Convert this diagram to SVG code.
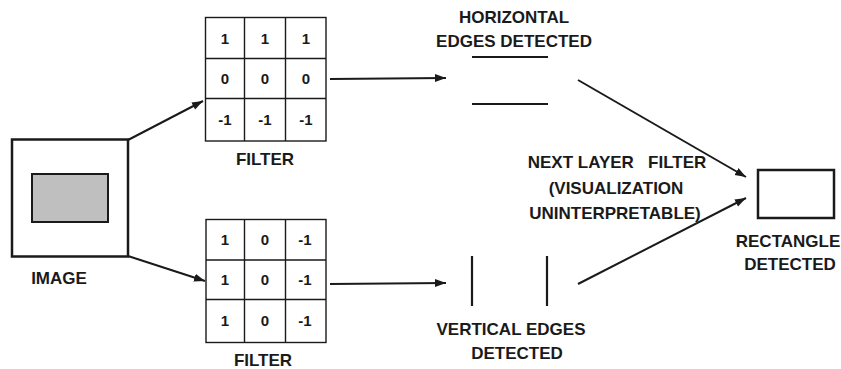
<svg xmlns="http://www.w3.org/2000/svg" width="841" height="369" viewBox="0 0 841 369">
<style>
text{font-family:"Liberation Sans",Arial,sans-serif;font-weight:bold;fill:#1a1a1a;text-anchor:middle}
.lbl{font-size:17px}
.num{font-size:15px}
.grid{fill:#fff;stroke:#1a1a1a;stroke-width:1.4}
.conn{stroke:#1a1a1a;stroke-width:2;fill:none}
.edge{stroke:#1a1a1a;stroke-width:2.2}
</style>
<defs>
<marker id="ah" markerUnits="userSpaceOnUse" markerWidth="12" markerHeight="10" refX="11" refY="4" orient="auto">
<path d="M0,0 L11,4 L0,8 Z" fill="#1a1a1a"/>
</marker>
</defs>
<rect width="841" height="369" fill="#fff"/>
<g id="image">
<rect x="12" y="139.5" width="116" height="117" fill="#fff" stroke="#1a1a1a" stroke-width="2.5"/>
<rect x="32" y="174" width="76" height="48" fill="#bfbfbf" stroke="#1a1a1a" stroke-width="2"/>
<text class="lbl" x="59" y="284">IMAGE</text>
</g>
<g id="filter1">
<rect class="grid" x="205.5" y="17.5" width="120.5" height="123.5"/>
<path class="grid" d="M244.5,17.5V141M285.5,17.5V141M205.5,58.5H326M205.5,98.5H326"/>
<text class="num" x="225" y="44">1</text><text class="num" x="265" y="44">1</text><text class="num" x="306" y="44">1</text>
<text class="num" x="225" y="84">0</text><text class="num" x="265" y="84">0</text><text class="num" x="306" y="84">0</text>
<text class="num" x="225" y="125">-1</text><text class="num" x="265" y="125">-1</text><text class="num" x="306" y="125">-1</text>
<text class="lbl" x="265" y="165">FILTER</text>
</g>
<g id="filter2">
<rect class="grid" x="206" y="219.5" width="120" height="123"/>
<path class="grid" d="M244.5,219.5V342.5M285.5,219.5V342.5M206,260H326M206,299.5H326"/>
<text class="num" x="225" y="245">1</text><text class="num" x="265" y="245">0</text><text class="num" x="305" y="245">-1</text>
<text class="num" x="225" y="285">1</text><text class="num" x="265" y="285">0</text><text class="num" x="305" y="285">-1</text>
<text class="num" x="225" y="326">1</text><text class="num" x="265" y="326">0</text><text class="num" x="305" y="326">-1</text>
<text class="lbl" x="263" y="366">FILTER</text>
</g>
<g id="horizontal">
<text class="lbl" x="514" y="23">HORIZONTAL</text>
<text class="lbl" x="514" y="47">EDGES DETECTED</text>
<line class="edge" x1="472" y1="57" x2="548" y2="57"/>
<line class="edge" x1="472" y1="104" x2="548" y2="104"/>
</g>
<g id="vertical">
<line class="edge" x1="472" y1="256" x2="472" y2="306" stroke-width="2.6"/>
<line class="edge" x1="547" y1="256" x2="547" y2="306" stroke-width="2.6"/>
<text class="lbl" x="511" y="335">VERTICAL EDGES</text>
<text class="lbl" x="517" y="359">DETECTED</text>
</g>
<g id="nextlayer">
<text class="lbl" x="617" y="168" xml:space="preserve">NEXT LAYER   FILTER</text>
<text class="lbl" x="616" y="194">(VISUALIZATION</text>
<text class="lbl" x="615" y="219">UNINTERPRETABLE)</text>
</g>
<g id="rectangle">
<rect x="758" y="170" width="76" height="48" fill="#fff" stroke="#1a1a1a" stroke-width="2.5"/>
<text class="lbl" x="788" y="247">RECTANGLE</text>
<text class="lbl" x="790" y="270">DETECTED</text>
</g>
<g id="connectors">
<line class="conn" x1="128" y1="140" x2="203" y2="101" marker-end="url(#ah)"/>
<line class="conn" x1="128" y1="256" x2="205" y2="281" marker-end="url(#ah)"/>
<line class="conn" x1="330" y1="79" x2="446" y2="78" marker-end="url(#ah)"/>
<line class="conn" x1="330" y1="284" x2="446" y2="283" marker-end="url(#ah)"/>
<line class="conn" x1="578" y1="80" x2="746" y2="177" marker-end="url(#ah)"/>
<line class="conn" x1="578" y1="284" x2="746" y2="198" marker-end="url(#ah)"/>
</g>
</svg>
